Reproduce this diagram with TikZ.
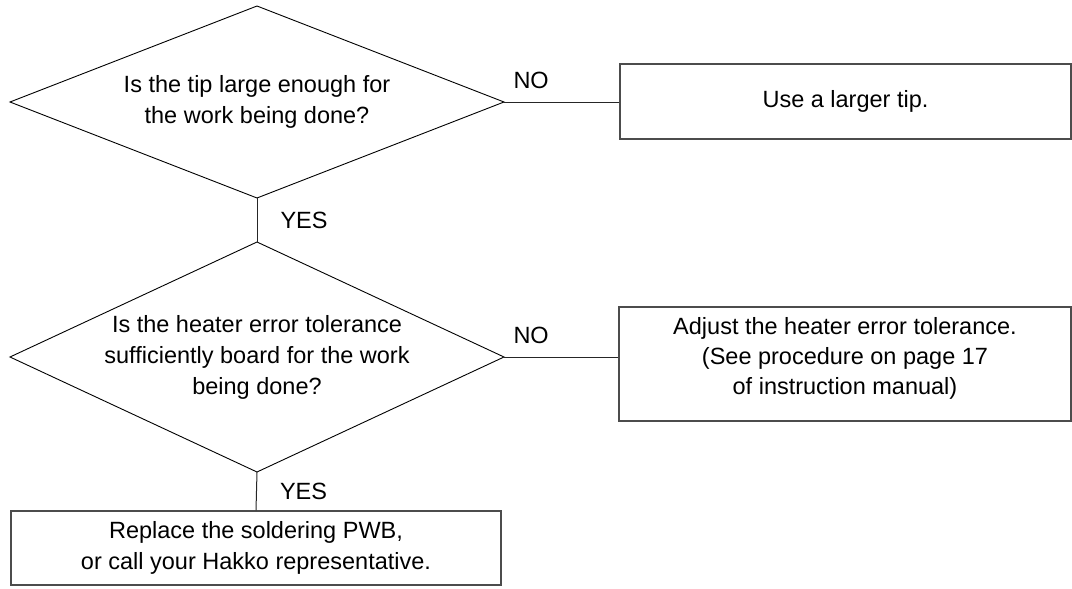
\documentclass[tikz,border=0pt]{standalone}
\usepackage{fontspec}
\setmainfont{Liberation Sans}
\usetikzlibrary{positioning}

\tikzset{
  question/.style={inner sep=0pt, align=center, font=\fontsize{23.5}{31}\selectfont},
  rhomb/.style={draw=black, line width=0.9pt, line join=miter},
  answer/.style={draw=black!70, line width=1.4pt, rectangle, inner sep=0pt,
    align=center, font=\fontsize{23.5}{31}\selectfont},
  link/.style={draw=black!85, line width=1pt},
  tag/.style={inner sep=0pt, font=\fontsize{23.5}{28}\selectfont}
}

\begin{document}
\begin{tikzpicture}[x=1pt, y=-1pt]

  % Fix the page to the size of the reference
  \useasboundingbox (0,0) rectangle (1072,589);

  % The two questions
  \node[question] (tipsize) at (257,102)
    {Is the tip large enough for\\the work being done?};
  \draw[rhomb] (257,6) coordinate (tipsize-n) -- (504,102) coordinate (tipsize-e)
    -- (257,198) coordinate (tipsize-s) -- (10,102) coordinate (tipsize-w) -- cycle;

  \node[question] (tolerance) at (257,357)
    {Is the heater error tolerance\\sufficiently board for the work\\being done?};
  \draw[rhomb] (257,242) coordinate (tolerance-n) -- (504,357) coordinate (tolerance-e)
    -- (257,472) coordinate (tolerance-s) -- (10,357) coordinate (tolerance-w) -- cycle;

  % The three actions
  \node[answer, minimum width=451pt, minimum height=75pt] (largertip) at (845.5,101.5)
    {Use a larger tip.};
  \node[answer, minimum width=452pt, minimum height=114pt, text depth=16pt,
    font=\fontsize{23.5}{30}\selectfont] (adjust) at (845,364)
    {Adjust the heater error tolerance.\\(See procedure on page 17\\of instruction manual)};
  \node[answer, minimum width=490pt, minimum height=74pt] (replace) at (256,548)
    {Replace the soldering PWB,\\or call your Hakko representative.};

  % Connectors with their answers
  \draw[link] (tipsize-e) -- (tipsize-e -| largertip.west)
    node[tag, pos=0, anchor=base west, xshift=9pt, yshift=13.5pt] {NO};
  \draw[link] (tipsize-s) -- (tolerance-n)
    node[tag, midway, anchor=west, xshift=23pt] {YES};
  \draw[link] (tolerance-e) -- (tolerance-e -| adjust.west)
    node[tag, pos=0, anchor=base west, xshift=9pt, yshift=13.5pt] {NO};
  \draw[link] (tolerance-s) -- (replace.north)
    node[tag, midway, anchor=west, xshift=23pt] {YES};

\end{tikzpicture}
\end{document}
